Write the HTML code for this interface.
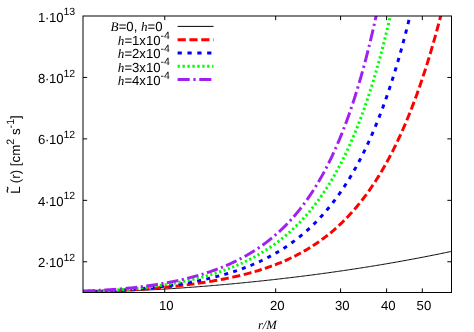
<!DOCTYPE html>
<html><head><meta charset="utf-8"><title>plot</title>
<style>html,body{margin:0;padding:0;background:#fff}body{width:474px;height:332px;overflow:hidden;font-family:"Liberation Sans",sans-serif}svg{display:block;position:absolute;left:0;top:0;will-change:transform}</style>
</head><body>
<svg width="474" height="332" viewBox="0 0 474 332">
<defs><clipPath id="c"><rect x="83.00" y="16.00" width="368.50" height="276.50"/></clipPath></defs>
<rect width="474" height="332" fill="#fff"/>
<g clip-path="url(#c)" fill="none" stroke-linejoin="round">
<path d="M83.00 291.90 L84.23 291.90 L85.46 291.90 L86.69 291.89 L87.92 291.89 L89.15 291.88 L90.37 291.87 L91.60 291.86 L92.83 291.85 L94.06 291.83 L95.29 291.82 L96.52 291.80 L97.75 291.78 L98.98 291.76 L100.21 291.74 L101.44 291.71 L102.67 291.69 L103.90 291.66 L105.12 291.64 L106.35 291.61 L107.58 291.58 L108.81 291.55 L110.04 291.52 L111.27 291.48 L112.50 291.45 L113.73 291.41 L114.96 291.38 L116.19 291.34 L117.42 291.30 L118.65 291.26 L119.87 291.22 L121.10 291.17 L122.33 291.13 L123.56 291.09 L124.79 291.04 L126.02 290.99 L127.25 290.95 L128.48 290.90 L129.71 290.85 L130.94 290.80 L132.17 290.74 L133.40 290.69 L134.62 290.64 L135.85 290.58 L137.08 290.53 L138.31 290.47 L139.54 290.41 L140.77 290.36 L142.00 290.30 L143.23 290.24 L144.46 290.18 L145.69 290.11 L146.92 290.05 L148.15 289.99 L149.37 289.92 L150.60 289.86 L151.83 289.79 L153.06 289.73 L154.29 289.66 L155.52 289.59 L156.75 289.52 L157.98 289.45 L159.21 289.38 L160.44 289.31 L161.67 289.23 L162.89 289.16 L164.12 289.09 L165.35 289.01 L166.58 288.94 L167.81 288.86 L169.04 288.78 L170.27 288.70 L171.50 288.63 L172.73 288.55 L173.96 288.47 L175.19 288.38 L176.42 288.30 L177.64 288.22 L178.87 288.14 L180.10 288.05 L181.33 287.97 L182.56 287.88 L183.79 287.80 L185.02 287.71 L186.25 287.62 L187.48 287.53 L188.71 287.44 L189.94 287.35 L191.17 287.26 L192.39 287.17 L193.62 287.08 L194.85 286.99 L196.08 286.89 L197.31 286.80 L198.54 286.70 L199.77 286.61 L201.00 286.51 L202.23 286.41 L203.46 286.32 L204.69 286.22 L205.92 286.12 L207.14 286.02 L208.37 285.92 L209.60 285.82 L210.83 285.72 L212.06 285.61 L213.29 285.51 L214.52 285.41 L215.75 285.30 L216.98 285.20 L218.21 285.09 L219.44 284.98 L220.67 284.88 L221.89 284.77 L223.12 284.66 L224.35 284.55 L225.58 284.44 L226.81 284.33 L228.04 284.22 L229.27 284.11 L230.50 283.99 L231.73 283.88 L232.96 283.76 L234.19 283.65 L235.41 283.53 L236.64 283.42 L237.87 283.30 L239.10 283.18 L240.33 283.06 L241.56 282.95 L242.79 282.83 L244.02 282.71 L245.25 282.58 L246.48 282.46 L247.71 282.34 L248.94 282.22 L250.16 282.09 L251.39 281.97 L252.62 281.84 L253.85 281.72 L255.08 281.59 L256.31 281.46 L257.54 281.33 L258.77 281.21 L260.00 281.08 L261.23 280.95 L262.46 280.82 L263.69 280.68 L264.91 280.55 L266.14 280.42 L267.37 280.29 L268.60 280.15 L269.83 280.02 L271.06 279.88 L272.29 279.74 L273.52 279.61 L274.75 279.47 L275.98 279.33 L277.21 279.19 L278.44 279.05 L279.66 278.91 L280.89 278.77 L282.12 278.63 L283.35 278.48 L284.58 278.34 L285.81 278.20 L287.04 278.05 L288.27 277.91 L289.50 277.76 L290.73 277.61 L291.96 277.47 L293.19 277.32 L294.41 277.17 L295.64 277.02 L296.87 276.87 L298.10 276.72 L299.33 276.56 L300.56 276.41 L301.79 276.26 L303.02 276.10 L304.25 275.95 L305.48 275.79 L306.71 275.63 L307.93 275.48 L309.16 275.32 L310.39 275.16 L311.62 275.00 L312.85 274.84 L314.08 274.68 L315.31 274.52 L316.54 274.35 L317.77 274.19 L319.00 274.03 L320.23 273.86 L321.46 273.70 L322.68 273.53 L323.91 273.36 L325.14 273.20 L326.37 273.03 L327.60 272.86 L328.83 272.69 L330.06 272.52 L331.29 272.34 L332.52 272.17 L333.75 272.00 L334.98 271.82 L336.21 271.65 L337.43 271.47 L338.66 271.30 L339.89 271.12 L341.12 270.94 L342.35 270.76 L343.58 270.58 L344.81 270.40 L346.04 270.22 L347.27 270.04 L348.50 269.86 L349.73 269.67 L350.96 269.49 L352.18 269.30 L353.41 269.12 L354.64 268.93 L355.87 268.74 L357.10 268.55 L358.33 268.36 L359.56 268.17 L360.79 267.98 L362.02 267.79 L363.25 267.60 L364.48 267.40 L365.71 267.21 L366.93 267.01 L368.16 266.82 L369.39 266.62 L370.62 266.42 L371.85 266.22 L373.08 266.02 L374.31 265.82 L375.54 265.62 L376.77 265.42 L378.00 265.21 L379.23 265.01 L380.45 264.81 L381.68 264.60 L382.91 264.39 L384.14 264.19 L385.37 263.98 L386.60 263.77 L387.83 263.56 L389.06 263.35 L390.29 263.13 L391.52 262.92 L392.75 262.71 L393.98 262.49 L395.20 262.28 L396.43 262.06 L397.66 261.84 L398.89 261.62 L400.12 261.40 L401.35 261.18 L402.58 260.96 L403.81 260.74 L405.04 260.52 L406.27 260.29 L407.50 260.07 L408.73 259.84 L409.95 259.62 L411.18 259.39 L412.41 259.16 L413.64 258.93 L414.87 258.70 L416.10 258.47 L417.33 258.23 L418.56 258.00 L419.79 257.77 L421.02 257.53 L422.25 257.29 L423.48 257.06 L424.70 256.82 L425.93 256.58 L427.16 256.34 L428.39 256.10 L429.62 255.85 L430.85 255.61 L432.08 255.37 L433.31 255.12 L434.54 254.87 L435.77 254.63 L437.00 254.38 L438.23 254.13 L439.45 253.88 L440.68 253.63 L441.91 253.37 L443.14 253.12 L444.37 252.87 L445.60 252.61 L446.83 252.35 L448.06 252.10 L449.29 251.84 L450.52 251.58 L451.50 251.37" stroke="#000000" stroke-width="0.99"/>
<path d="M83.74 291.55 L85.37 291.54 L86.99 291.52 L88.62 291.50 L90.25 291.47 L91.88 291.44M95.44 291.37 L97.06 291.33 L98.67 291.29 L100.28 291.24 L101.89 291.20 L103.51 291.15M107.13 291.02 L108.73 290.97 L110.33 290.90 L111.94 290.84 L113.54 290.77 L115.14 290.70M118.71 290.54 L120.31 290.46 L121.91 290.38 L123.51 290.30 L125.11 290.21 L126.71 290.13M130.28 289.92 L132.25 289.80 L134.22 289.68 L136.19 289.55 L138.16 289.42M141.71 289.18 L143.69 289.04 L145.66 288.89 L147.63 288.74 L149.60 288.59M153.11 288.31 L155.06 288.14 L157.02 287.97 L158.98 287.80 L160.93 287.62M164.30 287.31 L166.25 287.12 L168.19 286.93 L170.14 286.73 L172.08 286.53M175.57 286.16 L177.52 285.94 L179.46 285.72 L181.40 285.50 L183.34 285.27M186.75 284.85 L188.67 284.61 L190.58 284.36 L192.50 284.11 L194.41 283.85M197.82 283.37 L199.75 283.09 L201.67 282.81 L203.59 282.52 L205.52 282.22M209.15 281.64 L210.77 281.37 L212.40 281.10 L214.02 280.82 L215.64 280.53 L217.25 280.24M220.79 279.59 L222.39 279.29 L223.98 278.98 L225.57 278.66 L227.16 278.34 L228.75 278.01M232.30 277.25 L233.89 276.90 L235.47 276.55 L237.06 276.19 L238.64 275.82 L240.22 275.44M243.72 274.58 L245.65 274.08 L247.58 273.58 L249.50 273.06 L251.42 272.53M254.67 271.60 L256.45 271.08 L258.21 270.55 L259.98 270.00 L261.74 269.45M264.88 268.42 L266.64 267.82 L268.41 267.22 L270.16 266.59 L271.91 265.96M274.98 264.81 L276.70 264.14 L278.42 263.46 L280.13 262.77 L281.84 262.06M284.79 260.80 L286.47 260.05 L288.15 259.29 L289.82 258.52 L291.48 257.73M294.39 256.31 L296.02 255.48 L297.65 254.64 L299.27 253.79 L300.88 252.92M303.81 251.28 L305.41 250.37 L306.99 249.44 L308.56 248.49 L310.12 247.53M312.88 245.79 L314.43 244.78 L315.98 243.75 L317.51 242.70 L319.03 241.64M321.79 239.67 L323.29 238.56 L324.78 237.43 L326.26 236.29 L327.73 235.13M330.35 233.02 L331.82 231.79 L333.28 230.56 L334.72 229.31 L336.15 228.04M338.70 225.72 L340.11 224.40 L341.51 223.07 L342.89 221.72 L344.26 220.36M346.71 217.87 L348.06 216.46 L349.41 215.02 L350.74 213.58 L352.05 212.12M354.39 209.48 L355.68 207.97 L356.96 206.45 L358.23 204.92 L359.48 203.38M361.71 200.58 L362.92 199.02 L364.12 197.45 L365.31 195.87 L366.48 194.28M368.54 191.43 L369.69 189.80 L370.83 188.16 L371.95 186.52 L373.06 184.87M375.01 181.91 L376.09 180.24 L377.15 178.56 L378.21 176.88 L379.25 175.18M381.08 172.17 L382.09 170.46 L383.09 168.75 L384.08 167.03 L385.06 165.30M386.80 162.19 L387.57 160.79 L388.33 159.38 L389.09 157.97 L389.84 156.56 L390.58 155.14M392.21 151.98 L392.94 150.55 L393.66 149.11 L394.38 147.67 L395.09 146.23 L395.80 144.78M397.33 141.59 L398.02 140.14 L398.70 138.68 L399.38 137.22 L400.05 135.76 L400.72 134.30M402.21 130.98 L402.86 129.50 L403.51 128.02 L404.15 126.54 L404.79 125.06 L405.43 123.57M406.82 120.25 L407.44 118.76 L408.05 117.27 L408.66 115.77 L409.26 114.28 L409.87 112.78M411.19 109.43 L411.78 107.92 L412.36 106.40 L412.94 104.89 L413.52 103.37 L414.09 101.86M415.34 98.52 L415.90 96.99 L416.46 95.46 L417.01 93.92 L417.56 92.39 L418.11 90.86M419.30 87.48 L419.83 85.94 L420.37 84.41 L420.89 82.86 L421.42 81.32 L421.94 79.78M423.08 76.36 L423.59 74.82 L424.10 73.28 L424.60 71.73 L425.10 70.19 L425.59 68.64M426.69 65.18 L427.17 63.63 L427.66 62.09 L428.14 60.53 L428.61 58.98 L429.09 57.43M430.13 53.97 L430.60 52.41 L431.06 50.86 L431.52 49.30 L431.97 47.74 L432.43 46.19M433.43 42.72 L433.87 41.16 L434.32 39.59 L434.76 38.03 L435.19 36.46 L435.63 34.90M436.59 31.41 L437.02 29.84 L437.45 28.26 L437.87 26.69 L438.29 25.11 L438.71 23.54M439.64 20.04 L440.05 18.46 L440.46 16.88 L440.87 15.30 L441.27 13.72 L441.68 12.14M442.56 8.65 L442.75 7.90" stroke="#ff0000" stroke-width="2.96"/>
<path d="M83.00 291.53 L84.99 291.51 L86.98 291.48M92.58 291.37 L93.97 291.33 L95.36 291.29 L96.74 291.25M102.31 291.07 L103.69 291.02 L105.07 290.96 L106.45 290.90M112.01 290.65 L113.40 290.58 L114.78 290.51 L116.16 290.44M121.68 290.12 L123.07 290.03 L124.46 289.94 L125.84 289.85M131.24 289.47 L132.61 289.36 L133.98 289.26 L135.36 289.15M140.83 288.69 L142.21 288.57 L143.58 288.45 L144.95 288.32M150.40 287.79 L151.76 287.65 L153.11 287.51 L154.47 287.36M159.86 286.76 L161.22 286.60 L162.57 286.43 L163.93 286.27M169.26 285.58 L170.60 285.40 L171.94 285.21 L173.27 285.02M178.58 284.24 L179.92 284.04 L181.26 283.82 L182.60 283.61M187.93 282.72 L189.25 282.48 L190.57 282.25 L191.90 282.01M197.13 281.01 L198.45 280.75 L199.77 280.48 L201.08 280.21M206.27 279.09 L208.22 278.65 L210.16 278.19M215.35 276.93 L217.27 276.43 L219.20 275.93M224.30 274.51 L225.59 274.14 L226.88 273.77 L228.16 273.38M233.21 271.81 L235.08 271.19 L236.95 270.57M241.92 268.82 L243.78 268.13 L245.63 267.43M250.49 265.51 L252.33 264.75 L254.17 263.97M259.00 261.82 L260.81 260.98 L262.60 260.12M267.35 257.75 L269.12 256.83 L270.88 255.89M275.53 253.29 L276.69 252.62 L277.85 251.93 L279.00 251.24M283.54 248.41 L284.67 247.67 L285.80 246.92 L286.93 246.17M291.39 243.06 L292.51 242.25 L293.63 241.43 L294.74 240.60M299.07 237.23 L300.17 236.34 L301.27 235.45 L302.36 234.54M306.50 230.97 L307.53 230.05 L308.56 229.12 L309.58 228.18M313.55 224.40 L314.53 223.43 L315.51 222.45 L316.48 221.47M320.24 217.52 L321.17 216.51 L322.10 215.49 L323.03 214.46M326.60 210.35 L327.49 209.29 L328.37 208.24 L329.24 207.17M332.69 202.84 L333.54 201.74 L334.38 200.64 L335.22 199.53M338.44 195.12 L339.25 193.99 L340.05 192.85 L340.85 191.71M343.93 187.14 L344.69 185.98 L345.45 184.81 L346.20 183.64M349.15 178.93 L349.88 177.73 L350.60 176.54 L351.31 175.34M354.07 170.58 L354.77 169.36 L355.46 168.12 L356.14 166.89M358.77 162.04 L359.42 160.80 L360.07 159.57 L360.71 158.33M363.21 153.39 L363.83 152.14 L364.45 150.88 L365.06 149.62M367.43 144.62 L368.02 143.35 L368.61 142.08 L369.19 140.81M371.46 135.73 L372.02 134.44 L372.59 133.14 L373.15 131.84M375.30 126.72 L375.83 125.43 L376.36 124.14 L376.89 122.85M378.95 117.65 L379.46 116.34 L379.97 115.03 L380.48 113.72M382.45 108.49 L382.93 107.18 L383.41 105.87 L383.89 104.56M385.77 99.31 L386.24 97.98 L386.70 96.65 L387.16 95.31M388.95 90.06 L389.40 88.72 L389.84 87.39 L390.28 86.05M392.00 80.75 L392.43 79.41 L392.86 78.07 L393.28 76.72M394.94 71.38 L395.34 70.04 L395.75 68.70 L396.15 67.36M397.74 62.01 L398.13 60.65 L398.53 59.29 L398.92 57.92M400.45 52.55 L400.82 51.19 L401.20 49.84 L401.57 48.49M403.04 43.09 L403.41 41.73 L403.77 40.36 L404.13 39.00M405.54 33.60 L405.89 32.23 L406.25 30.86 L406.59 29.49M407.94 24.12 L408.29 22.74 L408.63 21.35 L408.97 19.97M410.28 14.52 L410.61 13.15 L410.94 11.79 L411.26 10.42" stroke="#0000ff" stroke-width="2.96"/>
<path d="M83.27 291.35 L84.41 291.33 L85.55 291.31M88.18 291.25 L89.29 291.23 L90.40 291.20M93.04 291.12 L94.18 291.08 L95.32 291.04M97.94 290.95 L99.06 290.90 L100.18 290.86M102.78 290.74 L103.92 290.69 L105.06 290.63M107.67 290.50 L108.76 290.44 L109.86 290.38M112.46 290.23 L113.57 290.16 L114.67 290.09M117.26 289.92 L118.38 289.84 L119.49 289.76M122.07 289.57 L123.18 289.49 L124.29 289.40M126.88 289.20 L127.96 289.10 L129.04 289.01M131.62 288.78 L132.71 288.69 L133.79 288.58M136.38 288.33 L137.46 288.23 L138.53 288.12M141.12 287.85 L142.20 287.73 L143.29 287.61M145.89 287.32 L146.97 287.19 L148.05 287.06M150.60 286.75 L151.69 286.62 L152.78 286.48M155.28 286.15 L156.38 286.00 L157.48 285.85M159.97 285.50 L161.06 285.34 L162.15 285.18M164.67 284.80 L165.74 284.63 L166.80 284.46M169.33 284.05 L170.40 283.87 L171.46 283.69M173.94 283.26 L175.00 283.07 L176.06 282.88M178.58 282.41 L179.64 282.21 L180.70 282.01M183.13 281.52 L184.20 281.31 L185.27 281.08M187.75 280.56 L188.80 280.33 L189.85 280.10M192.30 279.55 L193.36 279.30 L194.43 279.05M196.82 278.47 L197.86 278.22 L198.89 277.96M201.29 277.35 L202.33 277.07 L203.38 276.80M205.77 276.14 L206.81 275.85 L207.84 275.56M210.25 274.86 L211.28 274.56 L212.31 274.25M214.69 273.51 L215.72 273.18 L216.75 272.85M219.12 272.08 L220.11 271.75 L221.11 271.41M223.49 270.58 L224.49 270.22 L225.50 269.86M227.85 268.99 L228.85 268.61 L229.85 268.22M232.17 267.31 L233.16 266.91 L234.16 266.51M236.47 265.55 L237.47 265.12 L238.46 264.69M240.78 263.67 L241.74 263.23 L242.70 262.79M245.02 261.70 L245.97 261.24 L246.92 260.78M249.23 259.63 L250.19 259.15 L251.14 258.65M253.40 257.46 L254.35 256.95 L255.29 256.44M257.49 255.21 L258.44 254.67 L259.38 254.13M261.58 252.82 L262.52 252.26 L263.45 251.69M265.61 250.33 L266.54 249.74 L267.46 249.15M269.62 247.71 L270.53 247.09 L271.44 246.47M273.58 244.98 L274.48 244.33 L275.38 243.68M277.47 242.13 L278.38 241.45 L279.28 240.76M281.34 239.14 L282.19 238.46 L283.04 237.77M285.07 236.10 L285.92 235.39 L286.76 234.67M288.74 232.95 L289.55 232.22 L290.36 231.49M292.28 229.74 L293.10 228.97 L293.92 228.20M295.78 226.40 L296.58 225.61 L297.39 224.81M299.20 222.97 L299.97 222.17 L300.74 221.37M302.48 219.52 L303.24 218.69 L304.00 217.86M305.72 215.94 L306.44 215.11 L307.17 214.28M308.84 212.32 L309.56 211.46 L310.28 210.59M311.91 208.59 L312.60 207.74 L313.27 206.89M314.90 204.80 L315.58 203.91 L316.27 203.01M317.82 200.93 L318.47 200.04 L319.12 199.15M320.63 197.03 L321.29 196.10 L321.94 195.17M323.43 192.99 L324.05 192.07 L324.67 191.15M326.10 188.97 L326.70 188.04 L327.30 187.10M328.73 184.84 L329.32 183.89 L329.90 182.94M331.26 180.71 L331.82 179.76 L332.39 178.81M333.71 176.54 L334.27 175.57 L334.83 174.59M336.12 172.29 L336.66 171.32 L337.20 170.34M338.45 168.04 L338.97 167.05 L339.50 166.06M340.71 163.74 L341.23 162.74 L341.74 161.73M342.93 159.38 L343.43 158.38 L343.92 157.39M345.08 155.00 L345.56 154.01 L346.04 153.01M347.15 150.65 L347.63 149.62 L348.11 148.59M349.20 146.19 L349.66 145.17 L350.12 144.14M351.19 141.72 L351.63 140.71 L352.07 139.69M353.12 137.25 L353.55 136.23 L353.99 135.20M355.01 132.74 L355.43 131.71 L355.85 130.68M356.84 128.23 L357.25 127.19 L357.66 126.16M358.62 123.70 L359.03 122.64 L359.44 121.59M360.37 119.12 L360.77 118.07 L361.16 117.01M362.07 114.56 L362.46 113.50 L362.84 112.44M363.74 109.95 L364.12 108.89 L364.49 107.83M365.37 105.32 L365.73 104.27 L366.10 103.21M366.95 100.70 L367.31 99.64 L367.66 98.58M368.50 96.06 L368.84 95.01 L369.19 93.95M370.01 91.43 L370.35 90.34 L370.70 89.25M371.50 86.73 L371.83 85.65 L372.17 84.57M372.94 82.05 L373.27 80.97 L373.60 79.90M374.36 77.38 L374.68 76.29 L375.00 75.21M375.74 72.67 L376.06 71.58 L376.38 70.48M377.10 67.98 L377.40 66.89 L377.71 65.80M378.43 63.25 L378.73 62.15 L379.04 61.05M379.73 58.50 L380.03 57.43 L380.32 56.35M381.01 53.75 L381.30 52.68 L381.58 51.62M382.26 49.01 L382.55 47.92 L382.83 46.83M383.48 44.30 L383.76 43.19 L384.04 42.09M384.68 39.53 L384.95 38.43 L385.22 37.34M385.86 34.77 L386.12 33.68 L386.39 32.58M387.02 29.97 L387.28 28.88 L387.54 27.79M388.15 25.21 L388.41 24.10 L388.67 22.99M389.26 20.45 L389.51 19.35 L389.76 18.26M390.35 15.66 L390.60 14.54 L390.86 13.42M391.43 10.84 L391.68 9.73 L391.92 8.62" stroke="#00ff00" stroke-width="2.96"/>
<path d="M83.00 290.98 L84.71 290.94 L86.43 290.89 L88.14 290.83 L89.86 290.77 L91.57 290.71 L93.29 290.64 L95.00 290.57M98.56 290.40 L99.67 290.34 L100.79 290.28M104.39 290.08 L106.37 289.96 L108.36 289.83 L110.34 289.69 L112.32 289.55 L114.31 289.40 L116.29 289.25M119.81 288.96 L120.91 288.86 L122.01 288.77M125.54 288.44 L127.49 288.25 L129.43 288.05 L131.38 287.85 L133.33 287.64 L135.27 287.42 L137.22 287.19M140.73 286.77 L141.82 286.63 L142.92 286.49M146.37 286.03 L148.30 285.76 L150.23 285.49 L152.16 285.20 L154.09 284.91 L156.01 284.61 L157.94 284.30M161.41 283.72 L162.47 283.54 L163.53 283.35M166.93 282.74 L168.83 282.38 L170.73 282.01 L172.64 281.63 L174.54 281.24 L176.43 280.84 L178.33 280.43M181.72 279.67 L182.78 279.43 L183.85 279.18M187.18 278.37 L189.05 277.90 L190.91 277.42 L192.77 276.93 L194.63 276.43 L196.48 275.91 L198.34 275.38M201.62 274.41 L202.60 274.11 L203.59 273.80M206.91 272.74 L208.73 272.14 L210.54 271.53 L212.35 270.90 L214.15 270.26 L215.95 269.60 L217.74 268.93M220.89 267.71 L221.88 267.31 L222.86 266.92M226.05 265.59 L227.81 264.82 L229.57 264.05 L231.33 263.25 L233.07 262.44 L234.81 261.61 L236.54 260.77M239.67 259.18 L240.63 258.69 L241.58 258.18M244.67 256.51 L246.38 255.55 L248.07 254.57 L249.76 253.58 L251.43 252.56 L253.10 251.53 L254.75 250.48M257.73 248.53 L258.66 247.90 L259.58 247.27M262.53 245.20 L264.13 244.04 L265.72 242.85 L267.30 241.65 L268.86 240.43 L270.41 239.19 L271.95 237.94M274.66 235.65 L275.50 234.92 L276.34 234.19M278.99 231.81 L280.43 230.47 L281.87 229.11 L283.28 227.74 L284.69 226.35 L286.08 224.95 L287.45 223.53M289.88 220.95 L290.63 220.13 L291.38 219.31M293.73 216.66 L295.02 215.16 L296.30 213.65 L297.56 212.13 L298.81 210.59 L300.04 209.05 L301.26 207.49M303.41 204.66 L304.09 203.76 L304.76 202.85M306.85 199.94 L308.00 198.31 L309.13 196.67 L310.25 195.02 L311.36 193.36 L312.45 191.69 L313.53 190.02M315.42 187.01 L316.02 186.04 L316.61 185.07M318.42 182.04 L319.43 180.32 L320.42 178.59 L321.40 176.86 L322.37 175.12 L323.33 173.37 L324.28 171.62M325.95 168.46 L326.47 167.47 L326.98 166.47M328.60 163.26 L329.36 161.72 L330.12 160.18 L330.87 158.64 L331.61 157.09 L332.34 155.54 L333.06 153.98 L333.78 152.42M335.26 149.15 L335.71 148.14 L336.16 147.12M337.61 143.79 L338.39 141.95 L339.17 140.11 L339.93 138.27 L340.69 136.42 L341.44 134.57 L342.18 132.71M343.51 129.34 L343.91 128.30 L344.31 127.26M345.59 123.87 L346.19 122.26 L346.79 120.64 L347.38 119.02 L347.97 117.41 L348.55 115.78 L349.12 114.16 L349.69 112.54M350.88 109.10 L351.24 108.03 L351.61 106.96M352.75 103.54 L353.29 101.90 L353.83 100.25 L354.36 98.61 L354.88 96.97 L355.40 95.32 L355.92 93.67 L356.44 92.03M357.49 88.60 L357.82 87.52 L358.15 86.43M359.18 82.94 L359.67 81.29 L360.15 79.63 L360.63 77.98 L361.11 76.32 L361.58 74.66 L362.05 73.00 L362.51 71.33M363.48 67.84 L363.77 66.76 L364.07 65.67M365.00 62.18 L365.45 60.51 L365.89 58.84 L366.32 57.17 L366.76 55.49 L367.19 53.82 L367.61 52.14 L368.04 50.47M368.91 46.97 L369.18 45.87 L369.45 44.78M370.31 41.25 L370.71 39.57 L371.12 37.89 L371.52 36.20 L371.91 34.52 L372.31 32.84 L372.70 31.15 L373.09 29.47M373.89 25.92 L374.14 24.83 L374.39 23.73M375.17 20.21 L375.54 18.52 L375.91 16.83 L376.28 15.14 L376.65 13.44 L377.01 11.75 L377.37 10.06 L377.73 8.37" stroke="#a020f0" stroke-width="2.96"/>
</g>
<g stroke="#000" stroke-width="0.99" fill="none">
<rect x="83.00" y="16.00" width="368.50" height="276.50"/>
<path d="M164.75 292.50 v-4.15 M164.75 16.00 v4.15"/>
<path d="M275.68 292.50 v-4.15 M275.68 16.00 v4.15"/>
<path d="M340.57 292.50 v-4.15 M340.57 16.00 v4.15"/>
<path d="M386.61 292.50 v-4.15 M386.61 16.00 v4.15"/>
<path d="M422.32 292.50 v-4.15 M422.32 16.00 v4.15"/>
<path d="M83.00 261.78 h4.15 M451.50 261.78 h-4.15"/>
<path d="M83.00 200.33 h4.15 M451.50 200.33 h-4.15"/>
<path d="M83.00 138.89 h4.15 M451.50 138.89 h-4.15"/>
<path d="M83.00 77.45 h4.15 M451.50 77.45 h-4.15"/>
</g>
<g fill="none">
<path d="M177.60 26.40 H213.50" stroke="#000" stroke-width="0.99"/>
<path d="M177.60 39.70 H213.50" stroke="#ff0000" stroke-width="2.96" stroke-dasharray="8.18 3.64"/>
<path d="M177.60 53.00 H213.50" stroke="#0000ff" stroke-width="2.96" stroke-dasharray="4.24 5.61"/>
<path d="M177.60 66.30 H213.50" stroke="#00ff00" stroke-width="2.96" stroke-dasharray="2.27 2.66"/>
<path d="M177.60 79.60 H213.50" stroke="#a020f0" stroke-width="2.96" stroke-dasharray="12.12 3.64 2.27 3.64"/>
</g>
<g font-family="'Liberation Sans', sans-serif" font-size="13.17px" fill="#000" text-rendering="geometricPrecision" style="filter:opacity(1)">
<text y="21.60"><tspan x="37.9">1</tspan><tspan x="45.0">·</tspan><tspan x="48.9">10</tspan><tspan x="63.5" y="15.10" font-size="10.53px">13</tspan></text>
<text y="83.05"><tspan x="37.9">8</tspan><tspan x="45.0">·</tspan><tspan x="48.9">10</tspan><tspan x="63.5" y="76.55" font-size="10.53px">12</tspan></text>
<text y="144.49"><tspan x="37.9">6</tspan><tspan x="45.0">·</tspan><tspan x="48.9">10</tspan><tspan x="63.5" y="137.99" font-size="10.53px">12</tspan></text>
<text y="205.93"><tspan x="37.9">4</tspan><tspan x="45.0">·</tspan><tspan x="48.9">10</tspan><tspan x="63.5" y="199.43" font-size="10.53px">12</tspan></text>
<text y="267.38"><tspan x="37.9">2</tspan><tspan x="45.0">·</tspan><tspan x="48.9">10</tspan><tspan x="63.5" y="260.88" font-size="10.53px">12</tspan></text>
<text x="166.20" y="309.8" text-anchor="middle">10</text>
<text x="277.20" y="309.8" text-anchor="middle">20</text>
<text x="342.20" y="309.8" text-anchor="middle">30</text>
<text x="388.20" y="309.8" text-anchor="middle">40</text>
<text x="423.90" y="309.8" text-anchor="middle">50</text>
<text x="267.4" y="329.1" text-anchor="middle" font-size="12.6px" font-family="'Liberation Serif', serif" font-style="italic">r/M</text>
<text font-size="13.33px" transform="translate(20,193.8) rotate(-90)"><tspan x="0" y="0">L (r) [cm</tspan><tspan dy="-6.3" font-size="10.67px">2</tspan><tspan dy="6.3"> s</tspan><tspan dy="-6.3" font-size="10.67px">-1</tspan><tspan dy="6.3">]</tspan><tspan x="1.13" y="-8.8" font-size="10.5px" stroke="#000" stroke-width="0.45">~</tspan></text>
<text y="30.90"><tspan x="110.6" font-family="'Liberation Serif', serif" font-style="italic">B</tspan><tspan>=0, </tspan><tspan font-family="'Liberation Serif', serif" font-style="italic">h</tspan><tspan>=0</tspan></text>
<text y="45.10"><tspan x="117.8" font-family="'Liberation Serif', serif" font-style="italic">h</tspan><tspan>=1x10</tspan><tspan dy="-6.2" font-size="10.53px">-4</tspan></text>
<text y="58.35"><tspan x="117.8" font-family="'Liberation Serif', serif" font-style="italic">h</tspan><tspan>=2x10</tspan><tspan dy="-6.2" font-size="10.53px">-4</tspan></text>
<text y="71.60"><tspan x="117.8" font-family="'Liberation Serif', serif" font-style="italic">h</tspan><tspan>=3x10</tspan><tspan dy="-6.2" font-size="10.53px">-4</tspan></text>
<text y="84.85"><tspan x="117.8" font-family="'Liberation Serif', serif" font-style="italic">h</tspan><tspan>=4x10</tspan><tspan dy="-6.2" font-size="10.53px">-4</tspan></text>
</g>
</svg>
</body></html>
